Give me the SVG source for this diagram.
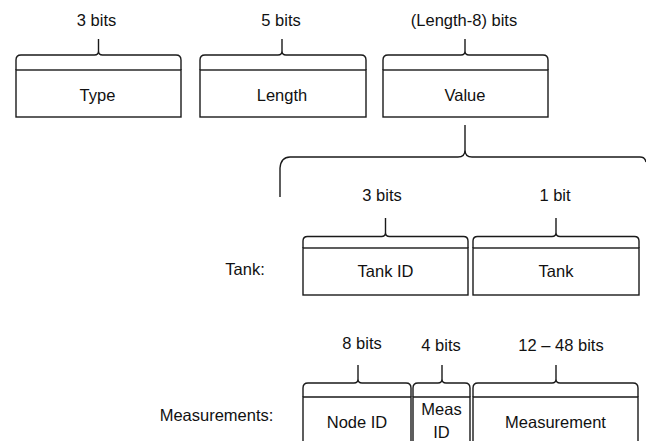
<svg xmlns="http://www.w3.org/2000/svg" width="646" height="441" viewBox="0 0 646 441">
<style>
  .ln{fill:none;stroke:#1a1a1a;stroke-width:1.4;stroke-linejoin:round}
  .bx{fill:#fff;stroke:#1a1a1a;stroke-width:1.4}
  text{font-family:"Liberation Sans",Arial,sans-serif;font-size:16.5px;fill:#111;text-anchor:middle}
</style>
<rect width="646" height="441" fill="#fff"/>

<g id="type">
  <path class="ln" d="M16 70 V60 Q16 55 21 55 H94.5 Q98.5 55 98.5 51 V39 M98.5 39 V51 Q98.5 55 102.5 55 H176 Q181 55 181 60 V70"/>
  <rect class="bx" x="16" y="70" width="165" height="47"/>
  <text x="96.5" y="26">3 bits</text>
  <text x="97.5" y="101">Type</text>
</g>
<g id="length">
  <path class="ln" d="M200 70 V60 Q200 55 205 55 H278 Q282 55 282 51 V39 M282 39 V51 Q282 55 286 55 H361 Q366 55 366 60 V70"/>
  <rect class="bx" x="200" y="70" width="166" height="47"/>
  <text x="281" y="26">5 bits</text>
  <text x="282" y="101">Length</text>
</g>
<g id="value">
  <path class="ln" d="M383 70 V60 Q383 55 388 55 H461 Q465 55 465 51 V39 M465 39 V51 Q465 55 469 55 H543 Q548 55 548 60 V70"/>
  <rect class="bx" x="383" y="70" width="165" height="47"/>
  <text x="464" y="26">(Length-8) bits</text>
  <text x="465" y="101">Value</text>
</g>

<g id="connectors">
  <path class="ln" d="M280 197 V168 Q281 157 290 157 H458 Q465 157 465 150 V125 M465 125 V150 Q465 157 472 157 H640 Q645 157 646 162"/>
</g>

<text x="245" y="275">Tank:</text>
<g id="tank-id">
  <path class="ln" d="M303 248 V241 Q303 236.5 307.5 236.5 H381.5 Q385.5 236.5 385.5 232.5 V218 M385.5 218 V232.5 Q385.5 236.5 389.5 236.5 H463.5 Q468 236.5 468 241 V248"/>
  <rect class="bx" x="303" y="248" width="165" height="47"/>
  <text x="382" y="201">3 bits</text>
  <text x="385.5" y="277">Tank ID</text>
</g>
<g id="tank">
  <path class="ln" d="M473 248 V241 Q473 236.5 477.5 236.5 H552 Q556 236.5 556 232.5 V218 M556 218 V232.5 Q556 236.5 560 236.5 H634.5 Q639 236.5 639 241 V248"/>
  <rect class="bx" x="473" y="248" width="166" height="47"/>
  <text x="555" y="201">1 bit</text>
  <text x="556" y="277">Tank</text>
</g>

<text x="216.5" y="421">Measurements:</text>
<g id="node-id">
  <path class="ln" d="M303 397 V388 Q303 383 308 383 H354 Q358 383 358 379 V365 M358 365 V379 Q358 383 362 383 H406 Q411 383 411 388 V397"/>
  <path class="ln" d="M303 445 V397 H411 V445"/>
  <text x="362" y="349">8 bits</text>
  <text x="357" y="427.5">Node ID</text>
</g>
<g id="meas-id">
  <path class="ln" d="M413 397 V388 Q413 383 418 383 H438 Q442 383 442 379 V365 M442 365 V379 Q442 383 446 383 H465 Q470 383 470 388 V397"/>
  <path class="ln" d="M413 445 V397 H470 V445"/>
  <text x="441" y="351">4 bits</text>
  <text x="441.5" y="415">Meas</text>
  <text x="441.5" y="437.5">ID</text>
</g>
<g id="measurement">
  <path class="ln" d="M473 397 V388 Q473 383 478 383 H552 Q556 383 556 379 V365 M556 365 V379 Q556 383 560 383 H633 Q638 383 638 388 V397"/>
  <path class="ln" d="M473 445 V397 H638 V445"/>
  <text x="561" y="351">12 – 48 bits</text>
  <text x="555.5" y="427.5">Measurement</text>
</g>
</svg>
